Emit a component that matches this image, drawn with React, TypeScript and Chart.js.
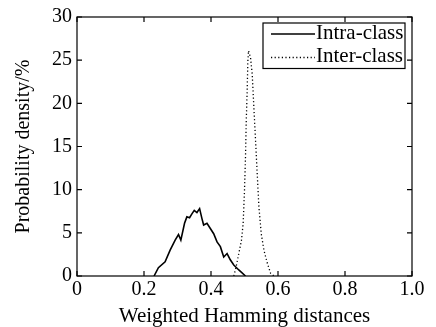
import React, { useEffect, useRef } from "react";
import { Chart, registerables } from "chart.js";

Chart.register(...registerables);

// ---- data ----
const intraX = [0.23, 0.243, 0.263, 0.278, 0.293, 0.303, 0.31, 0.321, 0.328, 0.336, 0.343, 0.35, 0.358, 0.366, 0.373, 0.378, 0.388, 0.398, 0.408, 0.418, 0.428, 0.438, 0.448, 0.458, 0.468, 0.483, 0.503];
const intraY = [0, 0.96, 1.65, 3.0, 4.15, 4.8, 4.15, 6.1, 6.85, 6.75, 7.2, 7.6, 7.35, 7.8, 6.65, 5.9, 6.1, 5.5, 4.9, 3.95, 3.4, 2.2, 2.6, 1.85, 1.27, 0.7, 0];

const interX = [0.468, 0.475, 0.483, 0.491, 0.496, 0.5, 0.503, 0.505, 0.508, 0.51, 0.512, 0.518, 0.523, 0.528, 0.533, 0.538, 0.543, 0.55, 0.558, 0.568, 0.578, 0.588];
const interY = [0, 1.07, 2.6, 4.15, 6.1, 9.9, 13.8, 17.6, 21.5, 24.9, 26.1, 25.3, 23.4, 19.5, 15.7, 11.8, 8.0, 4.9, 3.0, 1.5, 0.3, 0];

const seriesNames = ["Intra-class", "Inter-class"];
const xTitle = "Weighted Hamming distances";
const yTitle = "Probability density/%";
const xMin = 0, xMax = 1, xStep = 0.2;
const yMin = 0, yMax = 30, yStep = 5;

const FONT = '"Liberation Serif", "Times New Roman", serif';

const frame = {
  id: "matlabFrame",
  afterDraw(chart: any) {
    const { ctx, chartArea, scales } = chart;
    const { left, right, top, bottom } = chartArea;
    const x = scales.x, y = scales.y;
    ctx.save();
    ctx.strokeStyle = "#000";
    ctx.lineWidth = 1.2;
    ctx.strokeRect(left, top, right - left, bottom - top);
    const L = 5;
    ctx.beginPath();
    x.ticks.forEach((t: any) => {
      const px = x.getPixelForValue(t.value);
      ctx.moveTo(px, bottom); ctx.lineTo(px, bottom - L);
      ctx.moveTo(px, top); ctx.lineTo(px, top + L);
    });
    y.ticks.forEach((t: any) => {
      const py = y.getPixelForValue(t.value);
      ctx.moveTo(left, py); ctx.lineTo(left + L, py);
      ctx.moveTo(right, py); ctx.lineTo(right - L, py);
    });
    ctx.stroke();

    // legend box
    const bx0 = right - 149, bx1 = right - 7, by0 = top + 6, by1 = top + 51.5;
    ctx.fillStyle = "#fff";
    ctx.fillRect(bx0, by0, bx1 - bx0, by1 - by0);
    ctx.lineWidth = 1.2;
    ctx.strokeRect(bx0, by0, bx1 - bx0, by1 - by0);
    ctx.font = `21px ${FONT}`;
    ctx.textBaseline = "middle";
    ctx.textAlign = "left";
    ctx.fillStyle = "#000";
    chart.data.datasets.forEach((ds: any, i: number) => {
      const yy = by0 + 10 + i * 23.5;
      ctx.save();
      ctx.lineWidth = ds.borderWidth;
      ctx.strokeStyle = ds.borderColor;
      ctx.setLineDash(ds.borderDash || []);
      ctx.beginPath();
      ctx.moveTo(bx0 + 8, yy + 1);
      ctx.lineTo(bx0 + 52, yy + 1);
      ctx.stroke();
      ctx.restore();
      ctx.fillText(ds.label, bx0 + 53, yy);
    });
    ctx.restore();
  },
};

export default function App() {
  const ref = useRef<HTMLCanvasElement>(null);
  useEffect(() => {
    if (!ref.current) return;
    const chart = new Chart(ref.current, {
      type: "line",
      data: {
        datasets: [
          {
            label: seriesNames[0],
            data: intraX.map((v, i) => ({ x: v, y: intraY[i] })),
            borderColor: "#000",
            borderWidth: 1.6,
            pointRadius: 0,
            tension: 0,
            fill: false,
          },
          {
            label: seriesNames[1],
            data: interX.map((v, i) => ({ x: v, y: interY[i] })),
            borderColor: "#000",
            borderWidth: 1.3,
            borderDash: [1.2, 2.4],
            pointRadius: 0,
            tension: 0,
            fill: false,
          },
        ],
      },
      options: {
        responsive: false,
        animation: false,
        devicePixelRatio: 1,
        layout: { padding: { top: 16.5, right: 24, left: 0, bottom: 0 } },
        plugins: { legend: { display: false }, tooltip: { enabled: false } },
        scales: {
          x: {
            type: "linear",
            min: xMin,
            max: xMax,
            grid: { display: false, drawTicks: false },
            border: { display: false },
            afterFit: (s: any) => { s.height = 51; },
            ticks: {
              stepSize: xStep,
              padding: 2,
              color: "#000",
              font: { family: FONT, size: 20 },
              maxRotation: 0,
              callback: (v: any) => (Number(v) === 0 ? "0" : Number(v).toFixed(1)),
            },
            title: {
              display: true,
              text: xTitle,
              color: "#000",
              font: { family: FONT, size: 21, lineHeight: 1 },
              padding: { top: 0, bottom: 0 },
            },
          },
          y: {
            min: yMin,
            max: yMax,
            grid: { display: false, drawTicks: false },
            border: { display: false },
            afterFit: (s: any) => { s.width = 77; },
            ticks: {
              stepSize: yStep,
              padding: 5,
              color: "#000",
              font: { family: FONT, size: 20 },
            },
            title: {
              display: true,
              text: yTitle,
              color: "#000",
              font: { family: FONT, size: 20, lineHeight: 1.2 },
              padding: { top: 12, bottom: 0 },
            },
          },
        },
      },
      plugins: [frame],
    });
    return () => chart.destroy();
  }, []);
  return (
    <div style={{ position: "fixed", left: 0, top: 0, width: 436, height: 327, background: "#fff" }}>
      <canvas ref={ref} width={436} height={327} style={{ width: 436, height: 327, display: "block" }} />
    </div>
  );
}
